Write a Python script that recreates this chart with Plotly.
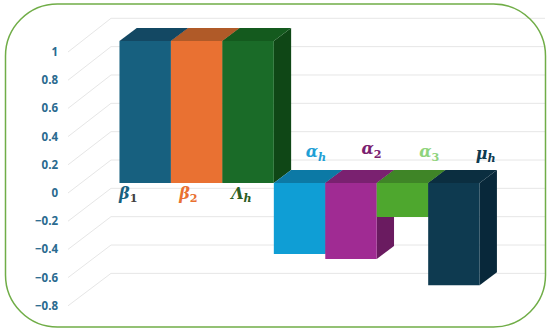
import plotly.graph_objects as go

categories = ["β1", "β2", "Λh", "αh", "α2", "α3", "μh"]
values = [1.0, 1.0, 1.0, -0.5, -0.535, -0.24, -0.72]
front_colors = ["#17607f", "#e97132", "#1a6b28", "#0f9ed5", "#a02b93", "#4ea72e", "#0e3a50"]
top_colors = ["#134863", "#b05a28", "#145a1e", "#0c79a5", "#7a2170", "#3f8527", "#0b2e40"]
side_colors = ["#0f3e54", "#9a4d20", "#0f4716", "#0a6a90", "#6a1b60", "#347022", "#08283a"]
tick_values = [1, 0.8, 0.6, 0.4, 0.2, 0, -0.2, -0.4, -0.6, -0.8]
tick_labels = ["1", "0.8", "0.6", "0.4", "0.2", "0", "−0.2", "−0.4", "−0.6", "−0.8"]
label_html = ["<b><i>β</i></b><span style='color:#404040'><b><sub>1</sub></b></span>",
              "<b><i>β</i><sub>2</sub></b>", "<b><i>Λ<sub>h</sub></i></b>", "<b><i>α<sub>h</sub></i></b>",
              "<b><i>α</i><sub>2</sub></b>", "<b><i>α</i><sub>3</sub></b>", "<b><i>μ<sub>h</sub></i></b>"]
label_colors = ["#17607f", "#e97132", "#2c5e22", "#1f9fd5", "#7a2170", "#8fd47c", "#0e3a50"]
label_dx = [-0.33, -0.16, -0.13, 0.32, 0.40, 0.52, 0.62]
label_y = [-0.085, -0.085, -0.085, 0.21, 0.23, 0.21, 0.20]

W, H = 550, 332
ML = 59
ZERO_PX, UNIT_PX = 183.0, 142.0
X0_PX, BAR_PX = 145.2, 51.45
DX, DY = 17.3 / BAR_PX, 13.0 / UNIT_PX


def px_x(p):
    return (p - X0_PX) / BAR_PX


def px_y(p):
    return (ZERO_PX - p) / UNIT_PX


shapes = []
# gridlines: side wall + back wall
for t in tick_values:
    back = 160.0 - 141.7 * t
    side = 193.0 - 141.0 * t
    shapes.append(dict(type="path", layer="below", xref="x", yref="y",
                       path=f"M{px_x(68)},{px_y(side)} L{px_x(111)},{px_y(back)} L{px_x(545)},{px_y(back)}",
                       line=dict(color="#e6e6e6", width=1)))

# depth faces of the bars
for i, v in enumerate(values):
    l, r = i - 0.5, i + 0.5
    hi = max(v, 0)
    lo = min(v, 0)
    shapes.append(dict(type="path", layer="below", xref="x", yref="y",
                       path=f"M{r},{hi} L{r + DX},{hi + DY} L{r + DX},{lo + DY} L{r},{lo} Z",
                       fillcolor=side_colors[i], line=dict(width=0)))
    shapes.append(dict(type="path", layer="below", xref="x", yref="y",
                       path=f"M{l},{hi} L{l + DX},{hi + DY} L{r + DX},{hi + DY} L{r},{hi} Z",
                       fillcolor=top_colors[i], line=dict(width=0)))


# rounded frame
def fx(p):
    return (p - ML) / (W - ML)


def fy(p):
    return 1 - p / H


L, R, T, B, RAD = 5.5, 545.5, 4.0, 327.0, 52.0
K = RAD * 0.448
frame = (f"M{fx(L + RAD)},{fy(T)} L{fx(R - RAD)},{fy(T)} "
         f"C{fx(R - K)},{fy(T)} {fx(R)},{fy(T + K)} {fx(R)},{fy(T + RAD)} "
         f"L{fx(R)},{fy(B - RAD)} C{fx(R)},{fy(B - K)} {fx(R - K)},{fy(B)} {fx(R - RAD)},{fy(B)} "
         f"L{fx(L + RAD)},{fy(B)} C{fx(L + K)},{fy(B)} {fx(L)},{fy(B - K)} {fx(L)},{fy(B - RAD)} "
         f"L{fx(L)},{fy(T + RAD)} C{fx(L)},{fy(T + K)} {fx(L + K)},{fy(T)} {fx(L + RAD)},{fy(T)} Z")
shapes.append(dict(type="path", layer="above", xref="paper", yref="paper", path=frame,
                   line=dict(color="#70ad47", width=1.5)))

fig = go.Figure()
fig.add_trace(go.Bar(x=list(range(len(values))), y=values, width=1.0, marker=dict(color=front_colors, line=dict(width=0)),
                     hoverinfo="skip", showlegend=False))
fig.add_trace(go.Scatter(x=[i + d for i, d in enumerate(label_dx)], y=label_y, mode="text", text=label_html,
                         textfont=dict(family="DejaVu Serif", size=16, color=label_colors), textposition="middle center",
                         hoverinfo="skip", showlegend=False))

fig.update_layout(
    width=W, height=H, autosize=False, margin=dict(l=ML, r=0, t=0, b=0),
    paper_bgcolor="white", plot_bgcolor="rgba(0,0,0,0)", showlegend=False, shapes=shapes,
    xaxis=dict(range=[px_x(ML), px_x(W)], visible=False, fixedrange=True),
    yaxis=dict(range=[px_y(H), px_y(0)], showgrid=False, zeroline=False, showline=False, ticks="",
               tickmode="array", tickvals=[px_y(193.0 - 141.0 * t) for t in tick_values], ticktext=tick_labels,
               tickfont=dict(family="Open Sans", size=11.5, color="#2a6a8f", weight="bold"), fixedrange=True),
)
fig.write_html("out.html", config={"displayModeBar": False},
               post_script="document.body.style.margin='0';document.documentElement.style.overflow='hidden';")
